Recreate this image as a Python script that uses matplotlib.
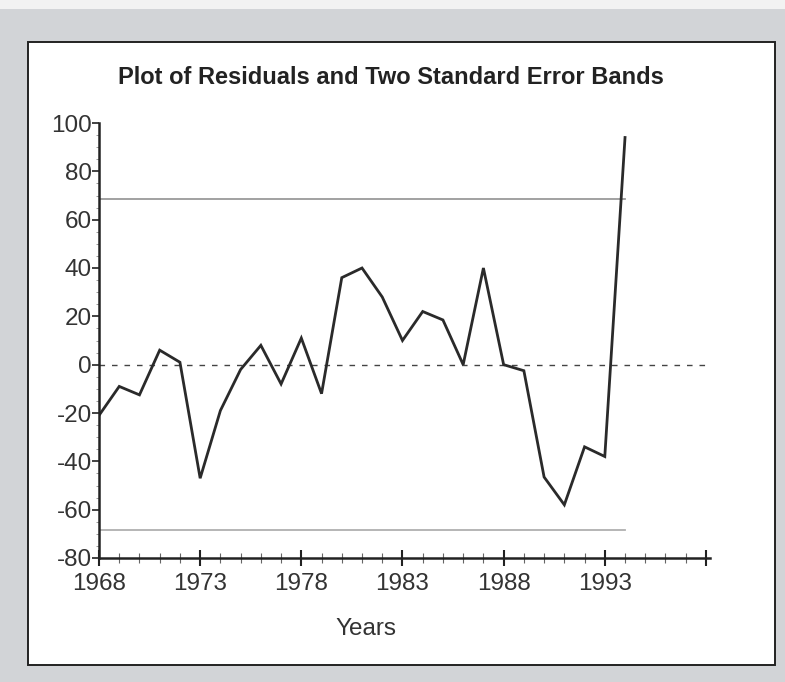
import matplotlib
matplotlib.use("Agg")
import matplotlib.pyplot as plt
from matplotlib.patches import Rectangle
from matplotlib.ticker import MultipleLocator

plt.rcParams['font.family'] = ['Liberation Sans', 'DejaVu Sans']
plt.rcParams['axes.unicode_minus'] = False

years = list(range(1968, 1995))
residuals = [-21, -9, -12.5, 6, 1, -47, -19, -2, 8, -8, 11, -12, 36, 40, 28, 10,
             22, 18.5, 0, 40, 0, -2.5, -46.5, -58, -34, -38, 94]
upper_band = 68.5
lower_band = -68.5
band_end = 1994
zero_end = 1998
major_xticks = [1968, 1973, 1978, 1983, 1988, 1993, 1998]
xtick_labels = ['1968', '1973', '1978', '1983', '1988', '1993', '']
yticks = [-80, -60, -40, -20, 0, 20, 40, 60, 80, 100]

fig = plt.figure(figsize=(7.85, 6.82), dpi=100)
fig.patch.set_facecolor('#d2d4d7')
# light top strip
fig.patches.append(Rectangle((0, 1 - 9 / 682), 1, 9 / 682, transform=fig.transFigure,
                             facecolor='#f2f2f2', edgecolor='none', zorder=0))
# white panel
fig.patches.append(Rectangle((28 / 785, 1 - 665 / 682), (775 - 28) / 785, (665 - 42) / 682,
                             transform=fig.transFigure, facecolor='white',
                             edgecolor='#222222', linewidth=1.4, zorder=1))

ax = fig.add_axes([99 / 785, 1 - 558 / 682, (710 - 99) / 785, (558 - 123) / 682])
ax.set_facecolor('none')
ax.set_zorder(2)

ax.plot([1968, band_end], [upper_band, upper_band], color='#9a9a9a', lw=1.3)
ax.plot([1968, band_end], [lower_band, lower_band], color='#b0b0b0', lw=1.3)
ax.plot([1968, zero_end], [0, 0], color='#444444', lw=1.0, linestyle=(0, (4, 5)))
ax.plot(years, residuals, color='#2a2a2a', lw=2.0, solid_joinstyle='miter')

ax.set_xlim(1968, 1998.2)
ax.set_ylim(-80, 100)
ax.spines['top'].set_visible(False)
ax.spines['right'].set_visible(False)
ax.spines['left'].set_linewidth(1.8)
ax.spines['bottom'].set_linewidth(1.8)
ax.spines['left'].set_color('#222222')
ax.spines['bottom'].set_color('#222222')

ax.set_xticks(major_xticks)
ax.set_xticklabels(xtick_labels)
ax.xaxis.set_minor_locator(MultipleLocator(1))
ax.tick_params(axis='x', which='major', direction='inout', length=12, width=1.5,
               colors='#222222', labelsize=17.5, pad=5, labelcolor='#333333')
ax.tick_params(axis='x', which='minor', direction='inout', length=7, width=0.8,
               colors='#666666')
ax.set_yticks(yticks)
ax.yaxis.set_minor_locator(MultipleLocator(5))
ax.tick_params(axis='y', which='major', direction='out', length=5, width=1.2,
               colors='#222222', labelsize=17.5, pad=0, labelcolor='#333333')
ax.tick_params(axis='y', which='minor', direction='out', length=2, width=0.6,
               colors='#888888')

fig.text(366 / 785, 1 - 629 / 682, 'Years', ha='center', va='center',
         fontsize=17.5, color='#333333')
fig.text(391 / 785, 1 - 78 / 682, 'Plot of Residuals and Two Standard Error Bands',
         ha='center', va='center', fontsize=17, fontweight='bold', color='#222222')

fig.savefig('out.png', dpi=100, facecolor=fig.get_facecolor())
